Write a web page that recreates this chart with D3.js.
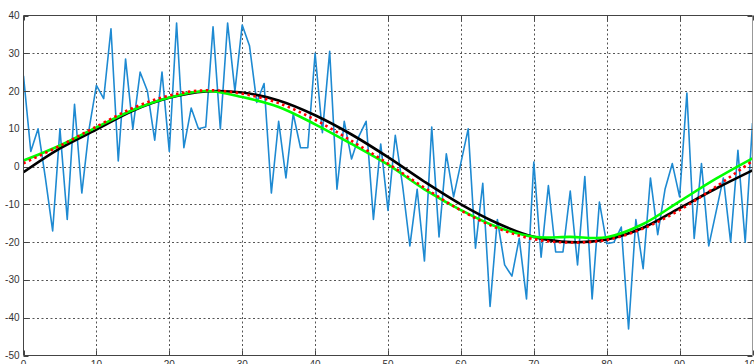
<!DOCTYPE html>
<html>
<head>
<meta charset="utf-8">
<script src="https://cdn.jsdelivr.net/npm/d3@7"></script>
<style>
  html, body { margin: 0; padding: 0; background: #fff; }
  svg { display: block; }
  text { font-family: "Liberation Sans", Arial, sans-serif; }
</style>
</head>
<body>
<svg id="chart" width="754" height="364"></svg>
<script>
// Noisy samples, one per x = 0..100
const noisyX = d3.range(0, 101);
const noisyY = [
  24, 4, 10, -3, -17, 10, -14, 16.5, -7, 10,
  21.5, 18, 36.5, 1.5, 28.5, 10, 25, 20, 7, 25,
  4, 38, 5, 15.5, 10, 10.5, 37, 10, 38, 20,
  37.5, 32, 17, 22, -7, 12, -3, 14, 5, 5,
  30, 9, 30.5, -6, 12, 2, 8, 12, -14, 6,
  -11.6, 8.3, -5, -21, -6, -25, 10.5, -18.6, 3.4, -8,
  1, 10, -21.6, -4.4, -37, -14, -26, -29, -19, -35,
  1.2, -24, -5, -22.6, -22.6, -6.5, -26, -2.6, -35, -9.4,
  -20.4, -20, -16, -43, -14, -27, -3, -18, -6, 0.8,
  -8, 19.5, -19, 0.8, -21, -12, -3, -20, 4.3, -20,
  11.5
];

// Smooth curves sampled every 5 units of x
const smoothX = d3.range(0, 101, 5);
const blackY = [-1.5, 4.8, 9.8, 14.8, 18.2, 19.9, 19.6, 17.5, 13.6, 8.5, 2.5,
                -4, -10, -15, -18.6, -20, -19.3, -16.2, -11, -5.8, -1];
const redY   = [0.9, 5.5, 10.6, 15.5, 18.8, 20.2, 19.3, 16.8, 12.4, 6.8, 0.8,
                -5.6, -11.6, -16.3, -19.2, -20.1, -19.4, -16.4, -11.5, -5.3, 1.5];
const greenY = [1.6, 5.6, 10.4, 15, 18.3, 20, 18.4, 15.8, 11.2, 6, 0.5,
                -6, -11.5, -16, -18.6, -18.6, -18.7, -15.2, -9.2, -3.2, 2.2];

// Axis ticks
const xTicks = d3.range(0, 101, 10);
const yTicks = d3.range(-50, 41, 10);

const svg = d3.select("#chart");
const W = 754, H = 364;
const plot = { left: 23.5, right: 752.5, top: 15.5, bottom: 355.5 };

const x = d3.scaleLinear().domain([0, 100]).range([plot.left, plot.right]);
const y = d3.scaleLinear().domain([-50, 40]).range([plot.bottom, plot.top]);

svg.append("rect").attr("width", W).attr("height", H).attr("fill", "#fff");

// Dotted grid
const grid = svg.append("g").attr("class", "grid");
grid.selectAll("line.gx").data(xTicks.slice(1, -1)).join("line")
  .attr("x1", d => Math.round(x(d)) + 0.5).attr("x2", d => Math.round(x(d)) + 0.5)
  .attr("y1", plot.top).attr("y2", plot.bottom)
  .attr("stroke", "#555").attr("stroke-width", 1).attr("stroke-dasharray", "2,2.5");
grid.selectAll("line.gy").data(yTicks.slice(1, -1)).join("line")
  .attr("x1", plot.left).attr("x2", plot.right)
  .attr("y1", d => Math.round(y(d)) + 0.5).attr("y2", d => Math.round(y(d)) + 0.5)
  .attr("stroke", "#555").attr("stroke-width", 1).attr("stroke-dasharray", "2,2.5");

// Data lines
svg.append("clipPath").attr("id", "clip")
  .append("rect").attr("x", plot.left).attr("y", plot.top)
  .attr("width", plot.right - plot.left).attr("height", plot.bottom - plot.top);
const lines = svg.append("g").attr("clip-path", "url(#clip)");

const noisyLine = d3.line().x((d, i) => x(noisyX[i])).y(d => y(d));
lines.append("path").datum(noisyY).attr("d", noisyLine)
  .attr("fill", "none").attr("stroke", "#1e8ad2").attr("stroke-width", 1.6)
  .attr("stroke-linejoin", "round");

const smoothLine = d3.line().curve(d3.curveCatmullRom.alpha(0.5))
  .x((d, i) => x(smoothX[i])).y(d => y(d));

lines.append("path").datum(blackY).attr("d", smoothLine)
  .attr("fill", "none").attr("stroke", "#000").attr("stroke-width", 2.6);
lines.append("path").datum(greenY).attr("d", smoothLine)
  .attr("fill", "none").attr("stroke", "#00ff00").attr("stroke-width", 2.6);
lines.append("path").datum(redY).attr("d", smoothLine)
  .attr("fill", "none").attr("stroke", "#ff0000").attr("stroke-width", 2.6)
  .attr("stroke-dasharray", "2.5,3.5");

// Frame with inward ticks on all sides
const frame = svg.append("g");
frame.append("line").attr("x1", plot.left).attr("x2", plot.right)
  .attr("y1", plot.top).attr("y2", plot.top).attr("stroke", "#444");
frame.append("line").attr("x1", plot.left).attr("x2", plot.right)
  .attr("y1", plot.bottom).attr("y2", plot.bottom).attr("stroke", "#444");
frame.append("line").attr("x1", plot.left).attr("x2", plot.left)
  .attr("y1", plot.top).attr("y2", plot.bottom).attr("stroke", "#444");
frame.append("line").attr("x1", plot.right).attr("x2", plot.right)
  .attr("y1", plot.top).attr("y2", plot.bottom).attr("stroke", "#999");

const tickLen = 5;
frame.selectAll("line.tb").data(xTicks).join("line")
  .attr("x1", d => Math.round(x(d)) + 0.5).attr("x2", d => Math.round(x(d)) + 0.5)
  .attr("y1", plot.bottom).attr("y2", plot.bottom - tickLen).attr("stroke", "#444");
frame.selectAll("line.tt").data(xTicks).join("line")
  .attr("x1", d => Math.round(x(d)) + 0.5).attr("x2", d => Math.round(x(d)) + 0.5)
  .attr("y1", plot.top).attr("y2", plot.top + tickLen).attr("stroke", "#444");
frame.selectAll("line.tl").data(yTicks).join("line")
  .attr("x1", plot.left).attr("x2", plot.left + tickLen)
  .attr("y1", d => Math.round(y(d)) + 0.5).attr("y2", d => Math.round(y(d)) + 0.5).attr("stroke", "#444");
frame.selectAll("line.tr").data(yTicks).join("line")
  .attr("x1", plot.right).attr("x2", plot.right - tickLen)
  .attr("y1", d => Math.round(y(d)) + 0.5).attr("y2", d => Math.round(y(d)) + 0.5).attr("stroke", "#444");

// Tick labels (the x labels sit at the lower edge of the canvas)
svg.append("g").selectAll("text").data(yTicks).join("text")
  .attr("x", plot.left - 4).attr("y", d => y(d)).attr("dy", "0.35em")
  .attr("text-anchor", "end").attr("font-size", 10).attr("fill", "#333")
  .text(d => d);
svg.append("g").selectAll("text").data(xTicks).join("text")
  .attr("x", d => x(d)).attr("y", plot.bottom + 4).attr("dy", "0.8em")
  .attr("text-anchor", "middle").attr("font-size", 10).attr("fill", "#333")
  .text(d => d);
</script>
</body>
</html>
